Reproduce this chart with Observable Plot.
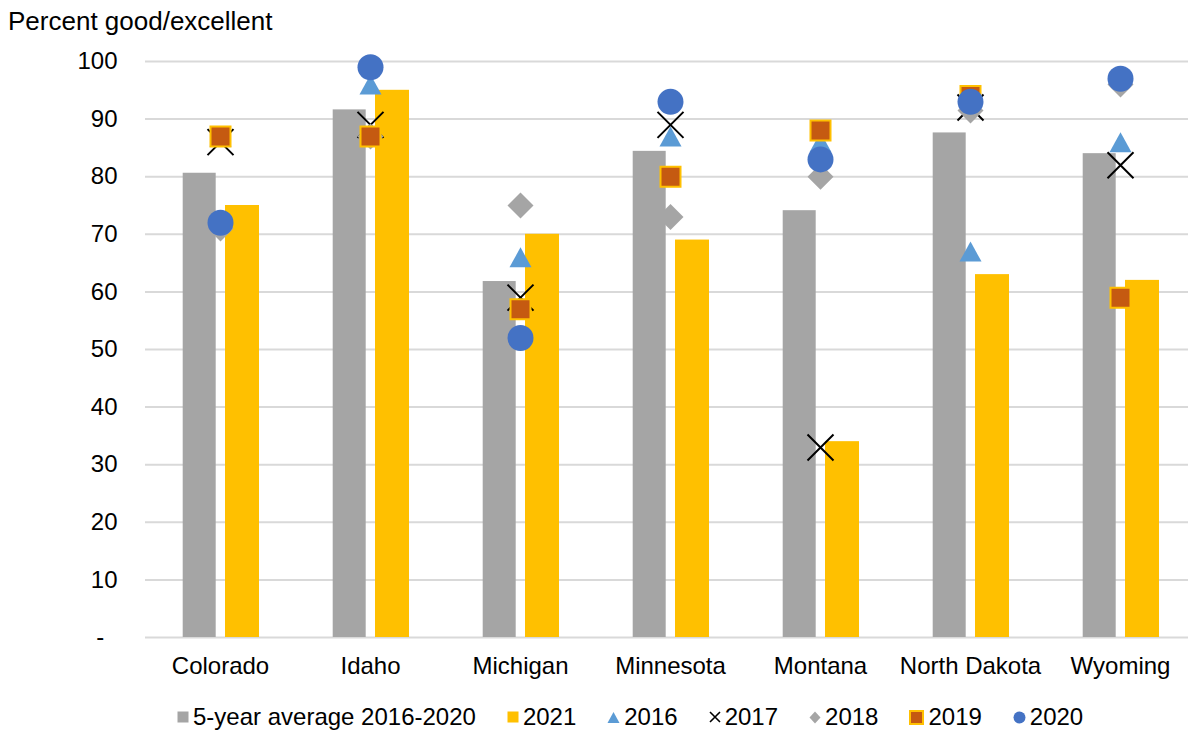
<!DOCTYPE html>
<html>
<head>
<meta charset="utf-8">
<script src="https://cdn.jsdelivr.net/npm/d3@7"></script>
<script src="https://cdn.jsdelivr.net/npm/@observablehq/plot@0.6"></script>
<style>
  body { margin: 0; background: #fff; }
  #wrap { position: relative; width: 1188px; height: 731px; font-family: "Liberation Sans", Arial, sans-serif; color: #000; overflow: hidden; }
  #title { position: absolute; left: 8px; top: 6px; font-size: 26px; white-space: nowrap; }
  #chart { position: absolute; left: 0; top: 40px; }
  #legend { position: absolute; left: 177px; top: 703px; display: flex; align-items: center; gap: 31px; font-size: 24px; white-space: nowrap; }
  .item { display: flex; align-items: center; gap: 4px; }
  .item svg { display: block; }
</style>
</head>
<body>
<div id="wrap">
  <div id="title">Percent good/excellent</div>
  <div id="chart"></div>
  <div id="legend"></div>
</div>
<script>
// ---- data ----
const states = ["Colorado", "Idaho", "Michigan", "Minnesota", "Montana", "North Dakota", "Wyoming"];
const avg5 = [80.6, 91.6, 61.8, 84.4, 74.1, 87.6, 84];
const y2021 = [75, 95, 70, 69, 34, 63, 62];
const y2016 = [87, 96, 66, 87, 86, 67, 86];
const y2017 = [86, 89, 59, 89, 33, 92, 82];
const y2018 = [71, 87, 75, 73, 80, 91.5, 96];
const y2019 = [87, 87, 57, 80, 88, 94, 59];
const y2020 = [72, 99, 52, 93, 83, 93, 97];
const yTicks = [0, 10, 20, 30, 40, 50, 60, 70, 80, 90, 100];
const seriesNames = ["5-year average 2016-2020", "2021", "2016", "2017", "2018", "2019", "2020"];

const rows = (vals) => states.map((s, i) => ({state: s, value: vals[i]}));

// ---- custom symbols (Excel-like) ----
const rOf = (s) => Math.sqrt(s / Math.PI);
const triUp = {draw(c, s) { const r = rOf(s); c.moveTo(0, -r); c.lineTo(r * 1.1, r); c.lineTo(-r * 1.1, r); c.closePath(); }};
const sq = {draw(c, s) { const r = rOf(s); c.rect(-r, -r, 2 * r, 2 * r); }};
const dia = {draw(c, s) { const r = rOf(s); c.moveTo(0, -r); c.lineTo(r, 0); c.lineTo(0, r); c.lineTo(-r, 0); c.closePath(); }};
const xs = {draw(c, s) { const r = rOf(s); c.moveTo(-r, -r); c.lineTo(r, r); c.moveTo(r, -r); c.lineTo(-r, r); }};

const chart = Plot.plot({
  width: 1188,
  height: 650,
  marginLeft: 145,
  marginRight: 0,
  marginTop: 21,
  marginBottom: 53,
  style: {fontFamily: "'Liberation Sans', Arial, sans-serif", fontSize: "24px", background: "transparent", color: "#000"},
  x: {domain: states, padding: 0, range: [145, 1195], label: null},
  y: {domain: [0, 100], label: null},
  marks: [
    Plot.ruleY(yTicks, {stroke: "#D9D9D9", strokeWidth: 2}),
    Plot.barY(rows(avg5), {x: "state", y: "value", fill: "#A5A5A5", insetLeft: 37.7, insetRight: 79.3}),
    Plot.barY(rows(y2021), {x: "state", y: "value", fill: "#FFC000", insetLeft: 80, insetRight: 36}),
    Plot.dot(rows(y2016), {x: "state", y: "value", symbol: triUp, r: 10, fill: "#5B9BD5", stroke: "none"}),
    Plot.dot(rows(y2017), {x: "state", y: "value", symbol: xs, r: 13, fill: "none", stroke: "#000", strokeWidth: 2}),
    Plot.dot(rows(y2018), {x: "state", y: "value", symbol: dia, r: 13, fill: "#A5A5A5", stroke: "none"}),
    Plot.dot(rows(y2019), {x: "state", y: "value", symbol: sq, r: 10, fill: "#C55A11", stroke: "#FFC000", strokeWidth: 2}),
    Plot.dot(rows(y2020), {x: "state", y: "value", symbol: "circle", r: 13, fill: "#4472C4", stroke: "none"}),
    Plot.axisY({ticks: yTicks, tickSize: 0, tickPadding: 28, fontSize: 24, tickFormat: d => d === 0 ? "-\u00a0\u00a0" : String(d)}),
    Plot.axisX({tickSize: 0, tickPadding: 19, fontSize: 24})
  ]
});
document.getElementById("chart").appendChild(chart);

// ---- legend ----
const icons = [
  `<svg width="12" height="12"><rect x="0.5" y="0.5" width="11" height="11" fill="#A5A5A5"/></svg>`,
  `<svg width="12" height="12"><rect x="0.5" y="0.5" width="11" height="11" fill="#FFC000"/></svg>`,
  `<svg width="13" height="13"><path d="M6.5,1 L12.5,12 L0.5,12 Z" fill="#5B9BD5"/></svg>`,
  `<svg width="12" height="12"><path d="M1,1 L11,11 M11,1 L1,11" stroke="#000" stroke-width="1.6"/></svg>`,
  `<svg width="12" height="13"><path d="M6,0.5 L11.5,6.5 L6,12.5 L0.5,6.5 Z" fill="#A5A5A5"/></svg>`,
  `<svg width="15" height="15"><rect x="1" y="1" width="13" height="13" fill="#C55A11" stroke="#FFC000" stroke-width="2"/></svg>`,
  `<svg width="13" height="13"><circle cx="6.5" cy="6.5" r="6" fill="#4472C4"/></svg>`
];
const legend = document.getElementById("legend");
seriesNames.forEach((name, i) => {
  const it = document.createElement("div");
  it.className = "item";
  it.innerHTML = icons[i] + `<span>${name}</span>`;
  legend.appendChild(it);
});
</script>
</body>
</html>
